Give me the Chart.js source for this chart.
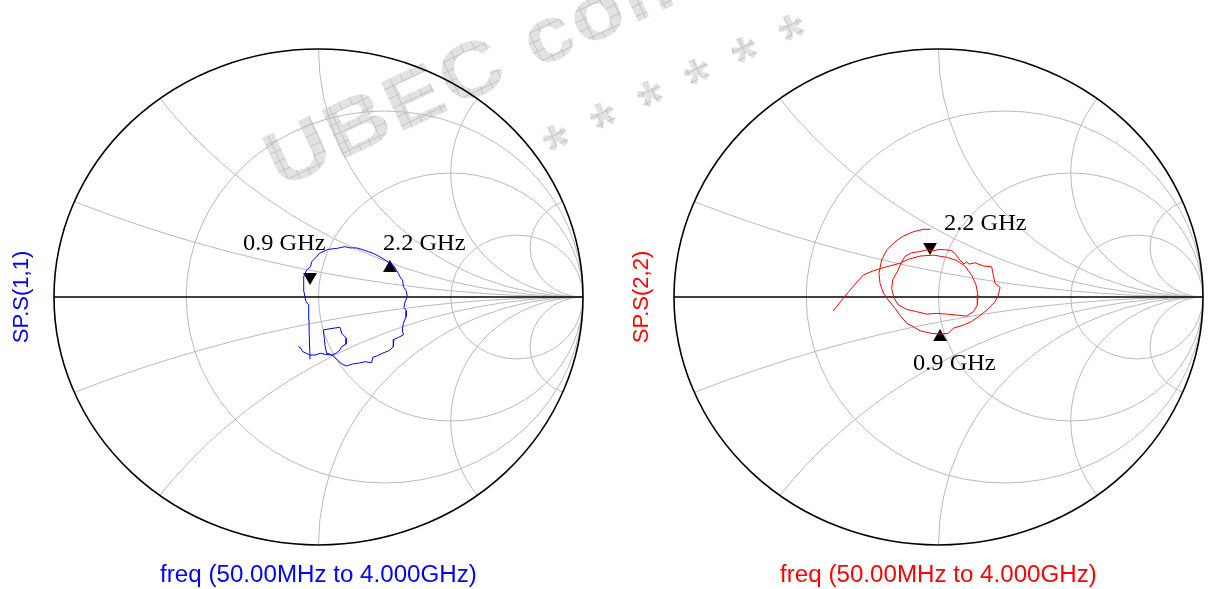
<!DOCTYPE html>
<html>
<head>
<meta charset="utf-8">
<script src="https://cdn.jsdelivr.net/npm/chart.js@4.4.1/dist/chart.umd.min.js"></script>
<style>
body{margin:0;width:1211px;height:589px;background:#fff;position:relative;overflow:hidden;}
canvas{position:absolute;top:0;}
#c1{left:0;}
#c2{left:620px;}
.marca{position:absolute;white-space:nowrap;transform-origin:0 0;
  font-family:"Liberation Sans",Arial,sans-serif;font-weight:bold;line-height:1;color:transparent;
  background-color:#e2e2e2;
  background-image:linear-gradient(#c4c4c4 1px,transparent 1px),linear-gradient(90deg,#c4c4c4 1px,transparent 1px);
  background-size:10px 10px;-webkit-background-clip:text;background-clip:text;}
</style>
</head>
<body>
<div class="marca" style="left:252px;top:129px;font-size:78px;letter-spacing:2px;transform:rotate(-25deg) scaleX(1.12);">UBEC com</div>
<div class="marca" style="left:534px;top:122px;font-size:66px;letter-spacing:4px;transform:rotate(-25deg);">* * * * * *</div>
<canvas id="c1" width="620" height="589"></canvas>
<canvas id="c2" width="591" height="589"></canvas>
<script>
let s11_re = [-0.032,-0.035,-0.036,-0.037,-0.047,-0.051,-0.055,-0.057,-0.055,-0.045,-0.030,-0.026,-0.009,0.003,0.025,0.037,0.069,0.100,0.119,0.144,
  0.169,0.188,0.207,0.226,0.248,0.268,0.285,0.302,0.311,0.318,0.321,0.331,0.336,0.327,0.323,0.333,0.331,0.321,0.317,0.321,
  0.302,0.285,0.283,0.268,0.248,0.220,0.205,0.201,0.176,0.151,0.129,0.106,0.088,0.071,0.056,0.043,0.031,0.025,0.022,0.018,
  0.043,0.081,0.088,0.106,0.104,0.088,0.079,0.066,0.050,0.025,0.006,-0.013,-0.032,-0.060,-0.066,-0.076];
let s11_im = [-0.251,-0.147,-0.093,-0.032,-0.019,-0.001,0.022,0.055,0.082,0.109,0.122,0.142,0.160,0.176,0.187,0.192,0.196,0.203,0.198,0.198,
  0.190,0.183,0.176,0.165,0.152,0.138,0.125,0.095,0.075,0.069,0.042,0.026,0.001,-0.019,-0.042,-0.055,-0.079,-0.106,-0.133,-0.153,
  -0.163,-0.171,-0.200,-0.216,-0.224,-0.238,-0.243,-0.265,-0.261,-0.267,-0.270,-0.278,-0.270,-0.254,-0.238,-0.230,-0.227,-0.200,-0.167,-0.133,
  -0.128,-0.122,-0.147,-0.167,-0.190,-0.200,-0.216,-0.227,-0.234,-0.231,-0.227,-0.234,-0.234,-0.220,-0.207,-0.200];

let s22_re = [-0.398,-0.360,-0.322,-0.284,-0.246,-0.196,-0.146,-0.114,-0.070,-0.020,0.031,0.069,0.100,0.125,0.142,0.149,0.147,0.132,0.106,0.069,
  0.031,-0.007,-0.045,-0.083,-0.120,-0.152,-0.168,-0.177,-0.173,-0.156,-0.139,-0.127,-0.101,-0.070,-0.045,-0.020,0.006,0.031,0.050,0.062,
  0.081,0.096,0.106,0.117,0.138,0.170,0.201,0.207,0.214,0.233,0.226,0.214,0.195,0.176,0.151,0.125,0.094,0.056,0.037,0.006,
  -0.026,-0.070,-0.095,-0.120,-0.146,-0.164,-0.190,-0.208,-0.221,-0.225,-0.215,-0.196,-0.164,-0.133,-0.095,-0.057,-0.030];
let s22_im = [-0.056,-0.005,0.044,0.089,0.106,0.122,0.136,0.152,0.165,0.169,0.160,0.147,0.125,0.089,0.048,0.008,-0.032,-0.059,-0.077,-0.073,
  -0.069,-0.066,-0.069,-0.059,-0.050,-0.032,-0.005,0.035,0.069,0.102,0.142,0.163,0.179,0.183,0.190,0.187,0.192,0.190,0.187,0.176,
  0.149,0.133,0.141,0.133,0.138,0.125,0.122,0.089,0.055,0.039,0.008,-0.019,-0.039,-0.059,-0.079,-0.099,-0.113,-0.126,-0.147,-0.149,
  -0.147,-0.136,-0.120,-0.106,-0.073,-0.046,-0.012,0.015,0.055,0.095,0.149,0.190,0.223,0.246,0.263,0.273,0.273];

// marcadores (0.9 GHz y 2.2 GHz)
let marcas_texto = ["0.9 GHz", "2.2 GHz"];
let m11_re = [-0.032, 0.270];
let m11_im = [0.081, 0.117];
let m22_re = [0.006, -0.032];
let m22_im = [-0.161, 0.202];

// rejilla de la carta de Smith
let resistencias = [1/3, 1, 3];
let reactancias = [0.2, 0.5, 1, 2, 5];

let titulo_x = "freq (50.00MHz to 4.000GHz)";

function puntos(re, im){
    return re.map((v, i) => ({x: v, y: im[i]}));
}

// dibuja la rejilla antes de las trazas
const rejilla = {
    id: 'rejilla',
    beforeDatasetsDraw(chart){
        let ctx = chart.ctx;
        let sx = chart.scales.x, sy = chart.scales.y;
        let cx = sx.getPixelForValue(0), cy = sy.getPixelForValue(0);
        let rx = sx.getPixelForValue(1) - cx, ry = cy - sy.getPixelForValue(1);
        ctx.save();
        ctx.beginPath();
        ctx.ellipse(cx, cy, rx, ry, 0, 0, Math.PI*2);
        ctx.clip();
        ctx.strokeStyle = '#bababa';
        ctx.lineWidth = 1;
        resistencias.forEach(r => {
            let c = r/(1+r), R = 1/(1+r);
            ctx.beginPath();
            ctx.ellipse(sx.getPixelForValue(c), cy, R*rx, R*ry, 0, 0, Math.PI*2);
            ctx.stroke();
        });
        reactancias.forEach(x => {
            [1, -1].forEach(s => {
                let R = 1/x;
                ctx.beginPath();
                ctx.ellipse(sx.getPixelForValue(1), sy.getPixelForValue(s*R), R*rx, R*ry, 0, 0, Math.PI*2);
                ctx.stroke();
            });
        });
        ctx.restore();
        ctx.save();
        ctx.strokeStyle = '#000';
        ctx.lineWidth = 1.6;
        ctx.beginPath();
        ctx.ellipse(cx, cy, rx, ry, 0, 0, Math.PI*2);
        ctx.stroke();
        ctx.lineWidth = 1.4;
        ctx.beginPath();
        ctx.moveTo(cx - rx, cy);
        ctx.lineTo(cx + rx, cy);
        ctx.stroke();
        ctx.restore();
    }
};

// textos: eje, titulo inferior y etiquetas de marcadores
const textos = {
    id: 'textos',
    afterDraw(chart, args, opts){
        let ctx = chart.ctx;
        let sx = chart.scales.x, sy = chart.scales.y;
        let cx = sx.getPixelForValue(0);
        ctx.save();
        ctx.fillStyle = opts.color;
        ctx.font = '22px "Liberation Sans", Arial, sans-serif';
        ctx.textAlign = 'center';
        ctx.textBaseline = 'middle';
        ctx.translate(22, sy.getPixelForValue(0));
        ctx.rotate(-Math.PI/2);
        ctx.fillText(opts.eje, 0, 0);
        ctx.restore();

        ctx.save();
        ctx.fillStyle = opts.color;
        ctx.font = '23px "Liberation Sans", Arial, sans-serif';
        ctx.textAlign = 'center';
        ctx.textBaseline = 'alphabetic';
        ctx.translate(cx, 582);
        ctx.scale(1.05, 1);
        ctx.fillText(titulo_x, 0, 0);
        ctx.restore();

        let meta = chart.getDatasetMeta(1);
        meta.data.forEach((p, i) => {
            let off = opts.desplaza[i];
            ctx.save();
            ctx.fillStyle = '#000';
            ctx.font = '23px "Liberation Serif", "Times New Roman", serif';
            ctx.textBaseline = 'alphabetic';
            ctx.translate(p.x + off[0], p.y + off[1]);
            ctx.scale(1.06, 1);
            ctx.fillText(marcas_texto[i], 0, 0);
            ctx.restore();
        });
    }
};

function carta(id, re, im, mre, mim, color, eje, giros, desplaza, pad){
    return new Chart(document.getElementById(id), {
        type: 'scatter',
        data: {
            datasets: [{
                data: puntos(re, im),
                showLine: true,
                borderColor: color,
                borderWidth: 1,
                pointRadius: 0,
                tension: 0
            }, {
                data: puntos(mre, mim),
                showLine: false,
                pointStyle: 'triangle',
                rotation: giros,
                pointRadius: 8,
                backgroundColor: '#000',
                borderColor: '#000',
                borderWidth: 0
            }]
        },
        options: {
            responsive: false,
            animation: false,
            layout: {padding: pad},
            plugins: {
                legend: {display: false},
                tooltip: {enabled: false},
                textos: {color: color, eje: eje, desplaza: desplaza}
            },
            scales: {
                x: {type: 'linear', min: -1, max: 1, display: false},
                y: {type: 'linear', min: -1, max: 1, display: false}
            }
        },
        plugins: [rejilla, textos]
    });
}

carta('c1', s11_re, s11_im, m11_re, m11_im, '#0000ff', 'SP.S(1,1)', [180, 0],
    [[-67, -27], [-7, -18]], {left: 54, right: 37, top: 49, bottom: 44});
carta('c2', s22_re, s22_im, m22_re, m22_im, '#ff0000', 'SP.S(2,2)', [0, 180],
    [[-27, 33], [14, -17]], {left: 54, right: 8, top: 49, bottom: 44});
</script>
</body>
</html>
